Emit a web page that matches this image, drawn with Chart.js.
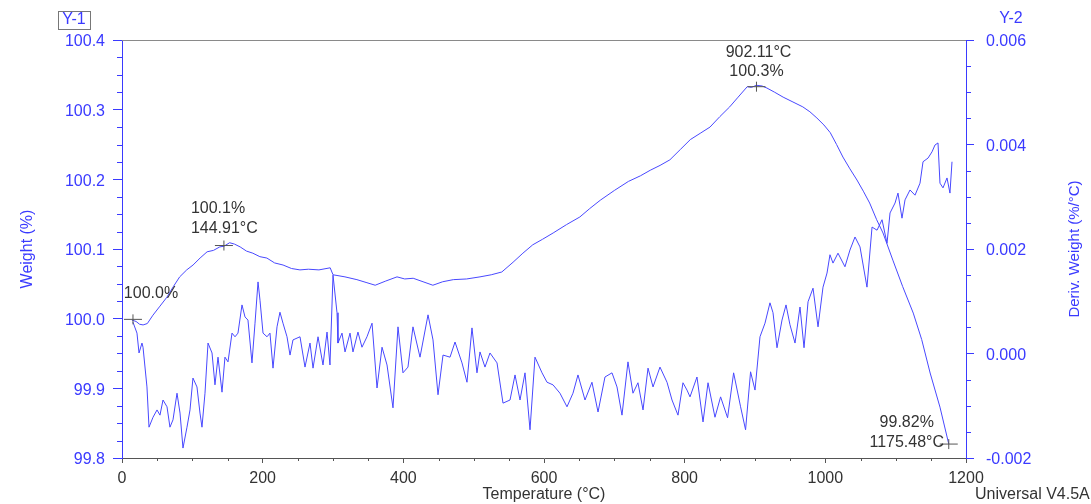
<!DOCTYPE HTML>
<html>
<head>
<title>TGA</title>
<script src="https://cdn.jsdelivr.net/npm/chart.js"></script>
<style>
  body { margin: 0; background: #fff; }
</style>
</head>
<body>
<canvas id="myChart" width="1091" height="504"></canvas>
<script type="text/javascript">
// weight curve (left axis)
var weightTemp = [14, 20, 25, 30, 36, 44, 54, 64, 73, 82,
                  92, 101, 111, 121, 130, 139, 145, 153, 160, 168,
                  177, 186, 196, 206, 217, 229, 241, 253, 265, 280,
                  296, 300, 317, 334, 347, 360, 375, 391, 402, 414,
                  428, 442, 456, 471, 490, 509, 525, 540, 556, 570,
                  584, 598, 613, 632, 651, 665, 680, 700, 720, 737,
                  751, 765, 779, 794, 808, 822, 836, 850, 864, 876,
                  889, 895, 902, 910, 917, 928, 940, 954, 968, 978,
                  988, 998, 1007, 1016, 1025, 1035, 1045, 1054, 1063, 1073,
                  1082, 1096, 1110, 1125, 1137, 1149, 1163, 1175.5];
var weightPct = [99.998, 99.996, 99.992, 99.991, 99.993, 100.005, 100.018, 100.031, 100.046, 100.060,
                 100.070, 100.077, 100.087, 100.096, 100.098, 100.103, 100.104, 100.109, 100.107, 100.103,
                 100.097, 100.094, 100.089, 100.087, 100.080, 100.077, 100.072, 100.070, 100.071, 100.070,
                 100.073, 100.063, 100.060, 100.056, 100.052, 100.048, 100.054, 100.060, 100.057, 100.058,
                 100.053, 100.048, 100.053, 100.056, 100.057, 100.060, 100.063, 100.067, 100.081, 100.094,
                 100.106, 100.114, 100.123, 100.135, 100.146, 100.158, 100.170, 100.184, 100.197, 100.205,
                 100.213, 100.220, 100.228, 100.243, 100.257, 100.266, 100.275, 100.290, 100.304, 100.318,
                 100.333, 100.332, 100.335, 100.334, 100.331, 100.325, 100.318, 100.311, 100.304, 100.297,
                 100.288, 100.278, 100.267, 100.250, 100.232, 100.215, 100.199, 100.183, 100.166, 100.142,
                 100.123, 100.084, 100.046, 100.008, 99.970, 99.922, 99.873, 99.820];

// derivative curve (right axis)
var derivTemp = [15.6, 21.3, 24.2, 28.4, 29.9, 35.5, 38.4, 44.1, 49.8, 54.0,
                 58.3, 64.0, 68.2, 72.5, 78.2, 82.5, 86.7, 92.4, 96.7, 100.9,
                 106.6, 110.9, 113.7, 118.0, 122.3, 128.0, 132.2, 136.5, 142.2, 146.4,
                 150.7, 156.4, 160.7, 164.9, 170.6, 174.9, 179.1, 184.8, 189.1, 193.4,
                 196.2, 200.5, 206.2, 210.4, 214.7, 220.4, 224.6, 228.9, 234.6, 238.9,
                 243.1, 253.1, 260.2, 267.3, 271.6, 278.7, 285.8, 291.5, 295.7, 300.0,
                 305.7, 307.1, 312.8, 317.1, 324.2, 328.4, 335.5, 341.2, 348.3, 355.5,
                 362.6, 369.7, 376.8, 385.3, 392.4, 399.5, 406.6, 413.7, 423.7, 435.1,
                 442.2, 449.3, 456.4, 466.4, 473.5, 483.4, 490.5, 497.6, 504.7, 509.0,
                 516.1, 523.2, 533.2, 541.7, 551.7, 558.8, 565.9, 573.0, 580.1, 587.2,
                 597.2, 604.3, 612.8, 622.7, 632.7, 641.2, 648.3, 658.3, 668.2, 676.8,
                 686.7, 696.7, 703.8, 710.9, 719.4, 726.5, 733.6, 740.8, 747.9, 755.0,
                 764.9, 774.9, 782.0, 790.5, 797.6, 803.3, 807.6, 817.5, 826.1, 833.2,
                 843.1, 851.1, 861.0, 869.6, 879.5, 886.6, 893.7, 900.0, 907.1, 914.2,
                 921.3, 925.6, 931.3, 938.4, 944.1, 949.7, 956.9, 964.0, 969.7, 975.4,
                 982.5, 989.6, 996.7, 1002.4, 1006.6, 1010.9, 1018.0, 1027.9, 1035.0, 1042.2,
                 1049.3, 1059.2, 1066.4, 1073.5, 1080.6, 1087.7, 1092.0, 1099.1, 1103.3, 1109.0,
                 1113.3, 1120.4, 1127.5, 1134.6, 1138.9, 1146.0, 1151.7, 1155.9, 1160.2, 1163.0,
                 1167.3, 1173.0, 1177.2, 1180.1];
var derivVal = [0.00060, 0.00039, 0.00001, 0.00020, 0.00012, -0.00064, -0.00141, -0.00122, -0.00108, -0.00118,
                -0.00089, -0.00102, -0.00141, -0.00127, -0.00076, -0.00114, -0.00181, -0.00141, -0.00108, -0.00047,
                -0.00064, -0.00114, -0.00141, -0.00076, 0.00020, 0.00001, -0.00060, -0.00007, -0.00074, -0.00007,
                -0.00016, 0.00039, 0.00032, 0.00039, 0.00093, 0.00070, 0.00064, -0.00018, 0.00058, 0.00137,
                0.00102, 0.00039, 0.00032, 0.00039, -0.00028, 0.00051, 0.00079, 0.00058, 0.00032, -0.00003,
                0.00026, 0.00032, -0.00026, 0.00020, -0.00028, 0.00032, -0.00022, 0.00041, -0.00022, 0.00150,
                0.00078, 0.00020, 0.00039, 0.00003, 0.00039, 0.00003, 0.00041, 0.00012, 0.00032, 0.00058,
                -0.00066, 0.00012, -0.00022, -0.00104, 0.00051, -0.00037, -0.00026, 0.00051, -0.00007, 0.00074,
                0.00026, -0.00079, -0.00003, -0.00007, 0.00022, -0.00018, -0.00055, 0.00049, -0.00037, 0.00003,
                -0.00026, 0.00001, -0.00018, -0.00095, -0.00089, -0.00041, -0.00089, -0.00037, -0.00146, -0.00007,
                -0.00037, -0.00055, -0.00060, -0.00076, -0.00102, -0.00076, -0.00041, -0.00089, -0.00055, -0.00112,
                -0.00045, -0.00037, -0.00064, -0.00118, -0.00016, -0.00076, -0.00056, -0.00108, -0.00028, -0.00064,
                -0.00026, -0.00055, -0.00089, -0.00118, -0.00056, -0.00070, -0.00083, -0.00045, -0.00131, -0.00056,
                -0.00122, -0.00083, -0.00123, -0.00037, -0.00102, -0.00146, -0.00035, -0.00070, 0.00032, 0.00058,
                0.00097, 0.00078, 0.00011, 0.00064, 0.00093, 0.00055, 0.00020, 0.00089, 0.00011, 0.00099,
                0.00125, 0.00051, 0.00127, 0.00154, 0.00189, 0.00173, 0.00192, 0.00166, 0.00198, 0.00223,
                0.00204, 0.00127, 0.00242, 0.00236, 0.00256, 0.00211, 0.00269, 0.00288, 0.00307, 0.00259,
                0.00294, 0.00313, 0.00303, 0.00326, 0.00367, 0.00374, 0.00386, 0.00399, 0.00403, 0.00326,
                0.00317, 0.00336, 0.00307, 0.00367];

// marked points on the weight curve
var markTemp   = [15.6, 144.91, 902.11, 1175.48];
var markWeight = [99.999, 100.105, 100.333, 99.820];
var markText   = [["100.0%"], ["100.1%", "144.91°C"], ["902.11°C", "100.3%"], ["99.82%", "1175.48°C"]];

var blue = '#3a3aff';
var lineBlue = '#4848ff';
var dark = '#333333';
var font = '"Liberation Sans", Arial, sans-serif';

function toXY(xs, ys) {
  var out = [];
  for (var i = 0; i < xs.length; i++) out.push({x: xs[i], y: ys[i]});
  return out;
}

var extrasPlugin = {
  id: 'extras',
  afterDraw: function (chart) {
    var c = chart.ctx, a = chart.chartArea;
    var sx = chart.scales.x, sy = chart.scales.y, sy2 = chart.scales.y2;
    var i, p;
    c.save();
    c.lineWidth = 1;

    // top frame
    c.strokeStyle = '#8a8a8a';
    c.beginPath(); c.moveTo(a.left, a.top + 0.5); c.lineTo(a.right, a.top + 0.5); c.stroke();

    // minor ticks
    c.strokeStyle = '#555';
    for (i = 1; i < 24; i++) {
      if (i % 4 == 0) continue;
      p = Math.round(sx.getPixelForValue(i * 50)) + 0.5;
      c.beginPath(); c.moveTo(p, a.bottom); c.lineTo(p, a.bottom + 3); c.stroke();
    }
    c.strokeStyle = blue;
    for (i = 1; i < 24; i++) {
      if (i % 4 == 0) continue;
      p = Math.round(sy.getPixelForValue(99.8 + i * 0.025)) + 0.5;
      c.beginPath(); c.moveTo(a.left - 5, p); c.lineTo(a.left, p); c.stroke();
    }
    for (i = 1; i < 16; i++) {
      if (i % 4 == 0) continue;
      p = Math.round(sy2.getPixelForValue(-0.002 + i * 0.0005)) + 0.5;
      c.beginPath(); c.moveTo(a.right, p); c.lineTo(a.right + 5, p); c.stroke();
    }

    // crosshair marks + labels
    c.font = '16px ' + font;
    c.fillStyle = dark;
    c.textBaseline = 'middle';
    for (i = 0; i < markTemp.length; i++) {
      var mx = sx.getPixelForValue(markTemp[i]);
      var my = sy.getPixelForValue(markWeight[i]);
      c.strokeStyle = '#555';
      c.beginPath();
      c.moveTo(mx - 9, my); c.lineTo(mx + 9, my);
      c.moveTo(mx, my - 5); c.lineTo(mx, my + 5);
      c.stroke();
      var t = markText[i];
      if (i == 0) {
        c.textAlign = 'center';
        c.fillText(t[0], mx + 18, my - 26);
      } else if (i == 1) {
        c.textAlign = 'left';
        c.fillText(t[0], mx - 33, my - 37);
        c.fillText(t[1], mx - 33, my - 17);
      } else if (i == 2) {
        c.textAlign = 'center';
        c.fillText(t[0], mx + 2, my - 34);
        c.fillText(t[1], mx, my - 15);
      } else {
        c.textAlign = 'center';
        c.fillText(t[0], mx - 42, my - 21);
        c.fillText(t[1], mx - 42, my - 1);
      }
    }

    // right axis title, reading bottom to top
    c.save();
    c.translate(1075, (a.top + a.bottom) / 2);
    c.rotate(-Math.PI / 2);
    c.textAlign = 'center';
    c.fillStyle = blue;
    c.font = '15px ' + font;
    c.fillText('Deriv. Weight (%/°C)', 0, 0);
    c.restore();

    // corner labels
    c.textAlign = 'center';
    c.fillStyle = blue;
    c.fillText('Y-1', 74, 20);
    c.fillText('Y-2', 1011, 19);
    c.strokeStyle = '#777';
    c.strokeRect(58.5, 11.5, 32, 18);
    c.fillStyle = dark;
    c.textAlign = 'left';
    c.fillText('Universal V4.5A', 975, 495);
    c.restore();
  }
};

var ctx = document.getElementById('myChart');
var myChart = new Chart(ctx, {
  type: 'line',
  data: {
    datasets: [
      {
        label: 'Weight',
        data: toXY(weightTemp, weightPct),
        yAxisID: 'y',
        borderColor: lineBlue,
        borderWidth: 1,
        pointRadius: 0,
        tension: 0
      },
      {
        label: 'Deriv. Weight',
        data: toXY(derivTemp, derivVal),
        yAxisID: 'y2',
        borderColor: lineBlue,
        borderWidth: 1,
        pointRadius: 0,
        tension: 0
      }
    ]
  },
  plugins: [extrasPlugin],
  options: {
    responsive: false,
    animation: false,
    layout: { padding: { top: 40, left: 0, right: 0, bottom: 0 } },
    plugins: { legend: { display: false }, tooltip: { enabled: false } },
    scales: {
      x: {
        type: 'linear',
        min: 0, max: 1200,
        afterFit: function (s) { s.height = 46; },
        ticks: { stepSize: 200, color: dark, padding: 6, font: { family: font, size: 16 },
                 callback: function (v) { return String(v); } },
        grid: { drawOnChartArea: false, tickLength: 5, tickColor: '#555' },
        border: { color: '#555' },
        title: { display: true, text: 'Temperature (°C)', color: dark, padding: 0, font: { family: font, size: 16 } }
      },
      y: {
        position: 'left',
        min: 99.8, max: 100.4,
        afterFit: function (s) { s.width = 122; },
        ticks: { stepSize: 0.1, color: blue, padding: 8, labelOffset: 2, font: { family: font, size: 16 },
                 callback: function (v) { return v.toFixed(1); } },
        grid: { drawOnChartArea: false, tickLength: 9, tickColor: blue },
        border: { color: blue },
        title: { display: true, text: 'Weight (%)', color: blue, padding: { top: 18 }, font: { family: font, size: 16 } }
      },
      y2: {
        position: 'right',
        min: -0.002, max: 0.006,
        afterFit: function (s) { s.width = 125; },
        ticks: { stepSize: 0.002, color: blue, padding: 12, labelOffset: 2, font: { family: font, size: 16 },
                 callback: function (v) { return v.toFixed(3); } },
        grid: { drawOnChartArea: false, tickLength: 8, tickColor: blue },
        border: { color: blue }
      }
    }
  }
});
</script>
</body>
</html>
